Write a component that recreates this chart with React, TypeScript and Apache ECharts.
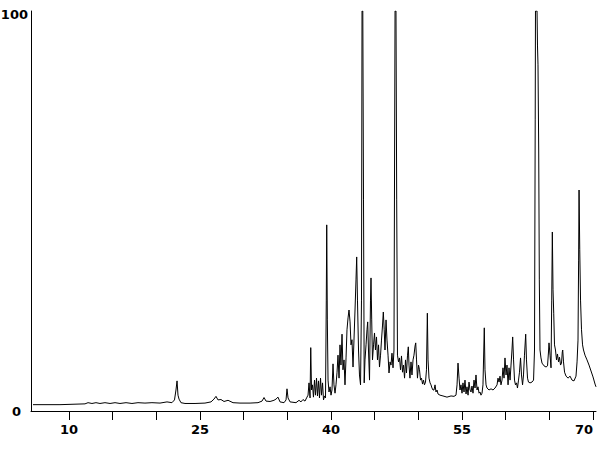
import React, { useEffect, useRef } from "react";
import * as echarts from "echarts";

// Retention time (min)
const retentionTimes: number[] = [
  5.88, 8.97, 11.83, 12.18, 12.63, 13.09, 13.55, 14.12, 14.7, 15.27,
  15.84, 16.53, 17.21, 17.9, 18.7, 19.5, 20.42, 21.22, 21.79, 22.08,
  22.25, 22.37, 22.48, 22.6, 22.82, 23.28, 24.43, 25.57, 26.26, 26.6,
  26.83, 27.06, 27.4, 27.75, 28.21, 28.78, 29.58, 30.73, 31.64, 32.1,
  32.33, 32.56, 33.02, 33.47, 33.7, 33.93, 34.16, 34.62, 34.85, 34.96,
  35.08, 35.31, 35.99, 36.34, 36.56, 36.79, 37.02, 37.25, 37.37, 37.48,
  37.6, 37.68, 37.77, 37.88, 37.99, 38.11, 38.22, 38.34, 38.45, 38.57,
  38.68, 38.8, 38.91, 39.03, 39.14, 39.26, 39.37, 39.46, 39.51, 39.58,
  39.66, 39.77, 39.89, 40.0, 40.11, 40.23, 40.34, 40.46, 40.57, 40.69,
  40.8, 40.92, 41.03, 41.14, 41.26, 41.37, 41.49, 41.6, 41.72, 41.83,
  41.95, 42.06, 42.18, 42.29, 42.4, 42.52, 42.63, 42.75, 42.86, 42.94,
  43.03, 43.15, 43.26, 43.38, 43.49, 43.55, 43.64, 43.72, 43.8, 43.89,
  44.01, 44.12, 44.2, 44.29, 44.41, 44.52, 44.58, 44.66, 44.75, 44.87,
  44.98, 45.09, 45.21, 45.32, 45.44, 45.55, 45.67, 45.78, 45.9, 45.99,
  46.09, 46.18, 46.3, 46.41, 46.53, 46.64, 46.76, 46.87, 46.98, 47.1,
  47.21, 47.33, 47.44, 47.52, 47.61, 47.73, 47.84, 47.96, 48.07, 48.19,
  48.3, 48.42, 48.53, 48.64, 48.76, 48.85, 48.93, 49.04, 49.16, 49.27,
  49.39, 49.5, 49.62, 49.7, 49.79, 49.9, 50.02, 50.13, 50.25, 50.36,
  50.48, 50.59, 50.7, 50.82, 50.93, 51.03, 51.11, 51.22, 51.34, 51.45,
  51.56, 51.68, 51.79, 51.91, 52.02, 52.14, 52.25, 52.48, 52.82, 53.28,
  53.74, 54.08, 54.31, 54.43, 54.54, 54.66, 54.77, 54.88, 55.0, 55.11,
  55.23, 55.34, 55.46, 55.57, 55.69, 55.8, 55.92, 56.03, 56.14, 56.26,
  56.37, 56.49, 56.6, 56.72, 56.83, 56.95, 57.06, 57.17, 57.29, 57.4,
  57.55, 57.63, 57.75, 57.86, 58.09, 58.32, 58.55, 58.78, 59.01, 59.12,
  59.24, 59.35, 59.46, 59.58, 59.69, 59.81, 59.92, 60.04, 60.15, 60.27,
  60.38, 60.5, 60.61, 60.72, 60.8, 60.9, 61.01, 61.12, 61.24, 61.35,
  61.47, 61.58, 61.7, 61.81, 61.93, 62.04, 62.15, 62.29, 62.38, 62.5,
  62.61, 62.79, 63.01, 63.19, 63.3, 63.38, 63.41, 63.59, 63.64, 63.7,
  63.78, 63.85, 63.93, 64.04, 64.16, 64.39, 64.62, 64.79, 64.9, 64.96,
  65.08, 65.19, 65.27, 65.34, 65.42, 65.5, 65.59, 65.7, 65.82, 65.93,
  66.05, 66.16, 66.28, 66.39, 66.48, 66.53, 66.62, 66.74, 66.91, 67.14,
  67.37, 67.59, 67.82, 68.05, 68.17, 68.28, 68.35, 68.4, 68.48, 68.57,
  68.68, 68.8, 68.91, 69.08, 69.31, 69.54, 69.77, 70.0, 70.23, 70.34,
];

// Relative abundance (%)
const intensities: number[] = [
  1.6, 1.6, 1.8, 2.1, 1.9, 2.1, 1.9, 2.1, 1.9, 2.1,
  1.9, 2.1, 1.9, 2.1, 2.0, 2.1, 2.0, 2.3, 2.1, 2.8,
  5.3, 7.6, 4.0, 3.0, 2.1, 1.9, 1.9, 2.0, 2.3, 3.0,
  3.7, 2.8, 2.9, 2.4, 2.7, 2.1, 2.0, 2.0, 2.1, 2.5,
  3.4, 2.5, 2.4, 2.7, 3.0, 3.5, 2.3, 2.1, 2.8, 5.6,
  3.3, 2.3, 2.1, 2.7, 2.3, 2.9, 2.5, 3.5, 4.0, 7.1,
  3.3, 16.0, 5.3, 6.6, 3.5, 7.8, 4.0, 8.3, 3.8, 7.6,
  3.3, 8.3, 4.0, 7.1, 2.8, 3.8, 3.3, 28.0, 47.0, 23.0,
  7.8, 4.8, 6.1, 4.0, 5.3, 11.9, 6.6, 4.5, 6.6, 9.8,
  14.1, 8.3, 16.7, 11.6, 19.4, 10.4, 12.9, 6.6, 13.4, 20.5,
  23.5, 25.5, 22.5, 16.7, 18.0, 11.1, 17.9, 25.5, 33.1, 38.9,
  28.0, 15.4, 9.1, 6.6, 28.0, 101, 101, 53.3, 7.1, 12.9,
  16.7, 20.5, 22.5, 15.4, 7.8, 28.0, 33.6, 23.0, 12.9, 16.7,
  19.7, 15.4, 18.7, 12.9, 16.7, 11.1, 14.1, 17.9, 21.7, 25.0,
  20.5, 15.4, 23.0, 17.9, 14.1, 9.6, 12.4, 11.6, 14.6, 10.9,
  15.4, 101, 101, 53.3, 14.1, 12.4, 13.4, 10.4, 13.9, 9.8,
  11.6, 8.3, 12.9, 9.6, 14.1, 16.2, 11.6, 8.3, 12.4, 9.1,
  12.9, 14.1, 16.4, 17.2, 12.9, 8.3, 11.6, 10.4, 7.8, 8.3,
  6.8, 7.8, 6.6, 7.3, 10.4, 24.7, 12.9, 8.3, 7.1, 6.6,
  5.8, 5.3, 5.3, 6.6, 4.8, 5.3, 4.3, 4.0, 3.8, 3.5,
  3.8, 3.7, 4.0, 6.6, 12.1, 8.3, 5.3, 6.6, 4.5, 7.1,
  4.8, 7.8, 4.3, 6.1, 4.0, 7.3, 5.3, 4.8, 6.3, 4.5,
  7.8, 5.8, 9.1, 5.3, 6.1, 4.5, 4.8, 4.0, 4.5, 6.6,
  21.0, 10.4, 6.6, 5.8, 5.3, 5.6, 5.3, 5.8, 6.6, 8.3,
  7.3, 8.8, 6.6, 7.8, 10.9, 8.3, 13.4, 9.1, 11.6, 6.6,
  10.9, 7.8, 11.6, 15.4, 18.7, 12.9, 7.8, 6.6, 7.1, 5.8,
  7.8, 9.8, 13.4, 9.1, 6.6, 9.1, 14.1, 19.4, 12.9, 8.3,
  7.3, 7.1, 7.3, 7.8, 15.4, 73.5, 101, 101, 92.4, 87.4,
  65.9, 33.1, 15.4, 13.4, 12.1, 11.4, 11.1, 11.4, 14.9, 17.2,
  14.1, 10.9, 28.0, 45.2, 30.6, 24.7, 16.7, 15.4, 12.9, 14.4,
  12.4, 13.6, 11.6, 12.1, 14.9, 15.4, 12.4, 9.8, 8.8, 8.3,
  8.8, 7.8, 7.6, 8.8, 12.4, 17.9, 38.1, 55.8, 40.7, 28.0,
  20.5, 16.7, 15.4, 14.1, 12.9, 11.6, 10.1, 8.6, 6.8, 6.1,
];

const xTickValues: number[] = [10, 15, 20, 25, 30, 35, 40, 45, 50, 55, 60, 65, 70];
const xLabelValues: number[] = [10, 25, 40, 55, 70];
const yLabelValues: number[] = [0, 100];

export default function App() {
  const ref = useRef<HTMLDivElement>(null);

  useEffect(() => {
    if (!ref.current) return;
    const chart = echarts.init(ref.current, null, { renderer: "svg" });
    const data = retentionTimes.map((t, i) => [t, intensities[i]]);
    const labelFont = {
      fontFamily: "DejaVu Sans",
      fontWeight: "bold" as const,
      fontSize: 13,
      color: "#000",
    };
    chart.setOption({
      animation: false,
      backgroundColor: "#fff",
      grid: {
        left: 31,
        right: 4,
        top: 11,
        bottom: 39,
        containLabel: false,
        outerBoundsMode: "none",
      },
      xAxis: {
        type: "value",
        min: 5.65,
        max: 70.34,
        axisLine: { show: true, lineStyle: { color: "#000", width: 1 } },
        axisTick: {
          show: true,
          inside: false,
          length: 9,
          customValues: xTickValues,
          lineStyle: { color: "#000", width: 1 },
        },
        axisLabel: {
          ...labelFont,
          margin: 12,
          customValues: xLabelValues,
          alignMaxLabel: "right",
          padding: [0, 0, 0, 0],
        },
        splitLine: { show: false },
      },
      yAxis: {
        type: "value",
        min: 0,
        max: 101,
        axisLine: { show: true, lineStyle: { color: "#000", width: 1 } },
        axisTick: { show: false },
        axisLabel: {
          ...labelFont,
          margin: 3,
          customValues: yLabelValues,
          formatter: (v: number) => (v === 0 ? "{z|0}" : "{h|" + v + "}"),
          rich: {
            z: { ...labelFont, padding: [0, 7, 0, 0] },
            h: { ...labelFont },
          },
        },
        splitLine: { show: false },
      },
      series: [
        {
          type: "line",
          data,
          showSymbol: false,
          symbol: "none",
          lineStyle: { color: "#000", width: 1 },
          clip: true,
        },
      ],
    });
    return () => chart.dispose();
  }, []);

  return (
    <div
      ref={ref}
      style={{ position: "fixed", left: 0, top: 0, width: 600, height: 450, background: "#fff" }}
    />
  );
}
